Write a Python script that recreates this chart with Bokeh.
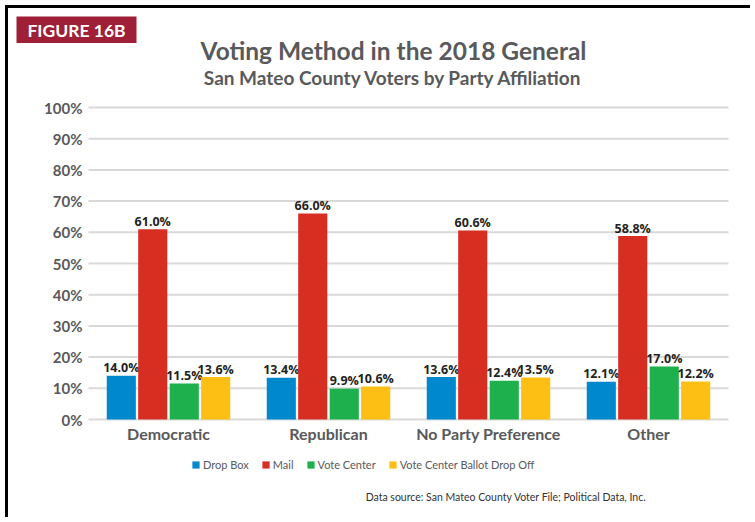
from bokeh.plotting import figure
from bokeh.models import Range1d, Label, Legend, LegendItem, ColumnDataSource, BoxAnnotation
from bokeh.transform import dodge
from bokeh.embed import file_html
from bokeh.resources import INLINE
from bokeh.core.properties import value

# ---------------- data ----------------
parties = ["Democratic", "Republican", "No Party Preference", "Other"]
methods = ["Drop Box", "Mail", "Vote Center", "Vote Center Ballot Drop Off"]
drop_box = [14.0, 13.4, 13.6, 12.1]
mail = [61.0, 66.0, 60.6, 58.8]
vote_center = [11.5, 9.9, 12.4, 17.0]
ballot_drop_off = [13.6, 10.6, 13.5, 12.2]
y_ticks = [0, 10, 20, 30, 40, 50, 60, 70, 80, 90, 100]
y_tick_labels = ["0%", "10%", "20%", "30%", "40%", "50%", "60%", "70%", "80%", "90%", "100%"]

title_text = "Voting Method in the 2018 General"
subtitle_text = "San Mateo County Voters by Party Affiliation"
badge_text = "FIGURE 16B"
source_text = "Data source: San Mateo County Voter File; Political Data, Inc."

# ---------------- layout / style ----------------
colors = ["#0088CE", "#D72E22", "#1DB04C", "#FDBF14"]
offsets = [-0.295, -0.0985, 0.0985, 0.295]
GREY = "#58595B"
CW, CH = 745, 512          # canvas size
PX0, PY0 = 8, 8            # page position of canvas
BL, BR, BT, BB = 88, 728, 107, 419   # page box of the plot area
n = len(parties)
ppx = (BR - BL) / n
ppy = (BB - BT) / 100.0
x_range = Range1d(-(BL - PX0) / ppx, n + (PX0 + CW - BR) / ppx)
y_range = Range1d(-(PY0 + CH - BB) / ppy, 100 + (BT - PY0) / ppy)

p = figure(x_range=x_range, y_range=y_range, width=CW, height=CH,
           output_backend="svg", toolbar_location=None, tools="",
           x_axis_location=None, y_axis_location=None,
           min_border=0, min_border_left=0, min_border_right=0,
           min_border_top=0, min_border_bottom=0)
p.styles = {"border-left": "3px solid #000", "border-top": "3px solid #000",
            "margin-left": "5px", "margin-top": "5px"}
p.outline_line_color = None
p.grid.visible = False
p.background_fill_color = "white"
p.border_fill_color = "white"

xc = [i + 0.5 for i in range(n)]

# gridlines and y tick labels
p.segment(x0=[0] * len(y_ticks), x1=[n] * len(y_ticks), y0=y_ticks, y1=y_ticks,
          line_color="#d9d9d9", line_width=2)
p.text(x=[0] * len(y_ticks), y=y_ticks, text=y_tick_labels, x_offset=-6,
       text_align="right", text_baseline="middle", text_font=value("Lato"),
       text_font_style="bold", text_font_size="15px", text_color=GREY)

# category labels
p.text(x=xc, y=[0] * n, text=parties, y_offset=14, text_align="center",
       text_baseline="middle", text_font=value("Lato"), text_font_style="bold",
       text_font_size="16px", text_color=GREY)

src = ColumnDataSource(dict(xc=xc, drop_box=drop_box, mail=mail,
                            vote_center=vote_center, ballot_drop_off=ballot_drop_off))
series = [drop_box, mail, vote_center, ballot_drop_off]
keys = ["drop_box", "mail", "vote_center", "ballot_drop_off"]

renderers = []
for k, vals, off, c in zip(keys, series, offsets, colors):
    r = p.vbar(x=dodge("xc", off), top=k, bottom=0, width=0.182, source=src,
               fill_color=c, line_color=None)
    renderers.append(r)
    lab_src = ColumnDataSource(dict(xc=xc, y=vals, t=[f"{v:.1f}%" for v in vals]))
    p.text(x=dodge("xc", off), y="y", text="t", source=lab_src,
           text_align="center", text_baseline="middle", y_offset=-8,
           text_font=value("Open Sans"), text_font_style="bold", text_font_size="12.5px",
           text_color="#231F20")

# legend
legend = Legend(items=[LegendItem(label=m, renderers=[r]) for m, r in zip(methods, renderers)],
                orientation="horizontal", location=(191 - PX0, PY0 + CH - 471),
                padding=0, margin=0, spacing=12, glyph_width=9, glyph_height=9,
                label_height=9, label_standoff=3,
                border_line_color=None, background_fill_alpha=0,
                label_text_font="Lato", label_text_font_size="11px",
                label_text_color=GREY)
p.add_layout(legend)


def sx(xp):
    return xp - PX0


def sy(yp):
    return PY0 + CH - yp


def lab(text, xp, yp, **kw):
    return Label(x=sx(xp), y=sy(yp), x_units="screen", y_units="screen", text=text, **kw)


# figure badge
p.add_layout(BoxAnnotation(left=sx(16), right=sx(136), top=sy(16), bottom=sy(42.5),
                           left_units="screen", right_units="screen",
                           top_units="screen", bottom_units="screen",
                           fill_color="#9E1F36", fill_alpha=1, line_color=None))
p.add_layout(lab(badge_text, 76, 30, text_align="center", text_baseline="middle",
                 text_font="Lato", text_font_style="bold", text_font_size="17.5px",
                 text_color="white"))

p.add_layout(lab(title_text, 393, 50, text_align="center", text_baseline="middle",
                 text_font="Lato", text_font_style="bold", text_font_size="24.5px",
                 text_color=GREY))
p.add_layout(lab(subtitle_text, 393, 77, text_align="center", text_baseline="middle",
                 text_font="Lato", text_font_style="bold", text_font_size="19px",
                 text_color=GREY))
p.add_layout(lab(source_text, 646, 496, text_align="right", text_baseline="middle",
                 text_font="Lato", text_font_size="10.5px", text_color="#333333"))

open("out.html", "w").write(file_html(p, INLINE))
